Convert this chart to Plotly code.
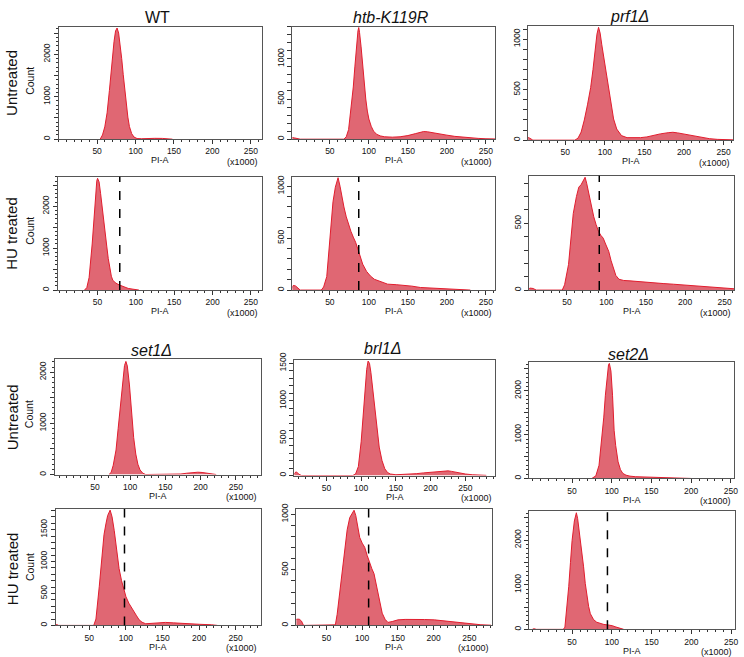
import plotly.graph_objects as go

# ---------------- data (PI-A in x1000, counts) ----------------
WT_U_PI = [54, 57, 60, 63, 66, 68, 70, 72, 74, 76, 78, 80, 82, 84, 86, 88, 90, 92, 95, 98, 102, 108, 115, 125, 135, 142, 148]
WT_U_COUNT = [0, 100, 290, 620, 1150, 1550, 1950, 2300, 2550, 2620, 2500, 2250, 1900, 1520, 1150, 780, 520, 300, 130, 50, 15, 10, 18, 20, 18, 10, 0]

HTB_U_PI = [0, 2, 5, 8, 12, 68, 71, 74, 77, 80, 82, 84, 86, 87, 88, 90, 92, 94, 96, 98, 100, 103, 106, 110, 115, 120, 130, 140, 150, 160, 170, 175, 180, 190, 200, 210, 220, 230, 240, 250, 262]
HTB_U_COUNT = [0, 20, 15, 5, 0, 0, 30, 120, 350, 650, 900, 1150, 1350, 1390, 1330, 1150, 920, 700, 500, 350, 250, 160, 100, 60, 40, 30, 25, 30, 45, 70, 95, 92, 82, 65, 50, 35, 25, 15, 10, 5, 3]

PRF1_U_PI = [0, 2, 5, 9, 62, 66, 70, 74, 78, 82, 85, 88, 90, 92, 94, 96, 99, 102, 105, 108, 111, 115, 121, 128, 138, 145, 153, 160, 170, 180, 186, 192, 200, 208, 216, 224, 232, 242, 253, 262]
PRF1_U_COUNT = [0, 30, 20, 0, 0, 20, 80, 200, 350, 520, 700, 900, 1050, 1117, 1060, 950, 800, 680, 540, 360, 210, 110, 45, 25, 22, 25, 32, 45, 62, 74, 78, 72, 60, 45, 32, 22, 15, 8, 5, 3]

WT_HU_PI = [33, 36, 39, 41, 43, 45, 47, 49, 50, 52, 54, 56, 58, 60, 62, 64, 66, 68, 70, 74, 78, 82, 86, 90, 95, 100, 104]
WT_HU_COUNT = [0, 60, 300, 650, 1100, 1600, 2200, 2600, 2667, 2580, 2300, 1950, 1620, 1330, 1050, 750, 500, 330, 230, 165, 125, 90, 60, 40, 25, 10, 0]

HTB_HU_PI = [0, 3, 6, 9, 12, 39, 42, 46, 50, 54, 57, 60.5, 63, 65, 68, 71, 74, 77, 80, 83, 87, 92, 97, 102, 107, 115, 124, 135, 145, 155, 166, 180, 200, 215, 230]
HTB_HU_COUNT = [0, 45, 40, 15, 0, 0, 30, 130, 470, 850, 990, 1082, 1000, 910, 800, 705, 630, 565, 510, 460, 370, 250, 180, 135, 104, 80, 57, 52, 47, 38, 25, 18, 12, 5, 0]

PRF1_HU_PI = [0, 3, 7, 11, 44, 47, 52, 55, 58, 62, 65, 68, 70, 72, 73, 75, 78, 81, 84, 87, 90, 93, 96, 99, 103, 106, 109, 112, 116, 122, 130, 140, 151, 162, 172, 185, 198, 210, 223, 236, 248, 262]
PRF1_HU_COUNT = [0, 15, 12, 0, 0, 40, 192, 380, 574, 700, 771, 790, 808, 830, 845, 800, 709, 620, 549, 490, 440, 410, 389, 345, 290, 220, 155, 110, 81, 72, 69, 63, 57, 52, 49, 44, 39, 32, 25, 20, 15, 10]

SET1_U_PI = [70, 73, 76, 80, 83, 86, 89, 92, 94, 96, 99, 102, 105, 108, 111, 114, 118, 122, 165, 172, 180, 190, 196, 202, 210, 216, 222]
SET1_U_COUNT = [0, 40, 180, 480, 900, 1350, 1800, 2130, 2210, 2120, 1750, 1200, 720, 400, 200, 90, 25, 0, 0, 10, 25, 40, 45, 40, 22, 6, 0]

BRL1_U_PI = [2, 5, 7, 10, 14, 88, 92, 96, 100, 103, 106, 108, 110, 112, 114, 117, 120, 123, 126, 130, 134, 138, 142, 150, 170, 180, 190, 200, 210, 220, 225, 230, 240, 250, 260, 270, 280]
BRL1_U_COUNT = [0, 40, 48, 20, 0, 0, 20, 120, 450, 850, 1200, 1420, 1530, 1500, 1380, 1120, 850, 600, 380, 200, 90, 40, 20, 10, 15, 25, 35, 45, 55, 65, 62, 55, 35, 20, 10, 5, 2]

SET2_U_PI = [75, 80, 84, 87, 90, 92, 94, 96, 97, 99, 101, 102, 103, 105, 108, 111, 114, 118, 123, 130, 144, 160, 173, 185, 200]
SET2_U_COUNT = [0, 60, 300, 800, 1400, 1900, 2350, 2600, 2626, 2450, 1900, 1350, 1100, 750, 380, 200, 115, 75, 53, 40, 30, 15, 8, 3, 0]

SET1_HU_PI = [0, 2, 5, 8, 56, 59, 63.5, 66, 68, 70, 72.6, 75, 78.4, 81, 84, 87, 90.6, 94, 97.4, 100, 104, 108, 111, 114, 118, 122, 127, 135, 145, 154, 165, 181, 200, 217, 225]
SET1_HU_COUNT = [0, 20, 15, 0, 0, 100, 605, 950, 1226, 1420, 1588, 1720, 1805, 1700, 1485, 1200, 890, 700, 553, 450, 347, 280, 217, 160, 88, 50, 26, 35, 42, 47, 40, 26, 18, 10, 0]

BRL1_HU_PI = [2, 5, 8, 12, 15, 18, 60, 62.5, 65, 68.6, 72, 75.6, 79, 82.6, 86, 88.6, 91, 93.5, 96.5, 100, 103.5, 107, 110.5, 113.5, 116.5, 119, 122, 125, 128, 132, 136, 142, 150, 160, 173, 187, 201, 215, 229, 245, 266, 280]
BRL1_HU_COUNT = [0, 30, 56, 56, 40, 0, 0, 5, 100, 288, 500, 703, 860, 970, 1010, 1036, 990, 900, 792, 740, 703, 630, 555, 510, 466, 390, 288, 190, 110, 55, 27, 35, 50, 54, 56, 53, 50, 40, 27, 15, 6, 2]

SET2_HU_PI = [0, 2, 5, 39, 41, 43, 45.8, 48, 50, 52.9, 55.4, 57, 58.4, 60.5, 62.5, 64.5, 66.6, 68.5, 70.8, 73, 77, 81, 85.4, 90, 95, 98, 101, 104, 108, 112, 115]
SET2_HU_COUNT = [0, 15, 0, 0, 50, 400, 956, 1500, 1985, 2426, 2610, 2480, 2279, 2050, 1765, 1400, 1029, 750, 515, 350, 220, 160, 132, 110, 100, 95, 80, 59, 40, 15, 0]

# G1 gate positions (dashed lines) for HU treated samples
GATE_WT = 79
GATE_HTB = 87
GATE_PRF1 = 91
GATE_SET1 = 98
GATE_BRL1 = 109
GATE_SET2 = 94.5

STRAINS_TOP = ["WT", "htb-K119R", "prf1Δ"]
STRAINS_BOTTOM = ["set1Δ", "brl1Δ", "set2Δ"]
X_TICKS = [50, 100, 150, 200, 250]

# ---------------- layout ----------------
W, H = 744, 657
LINE = "#e11d2e"
FILL = "rgba(218,76,90,0.85)"
FONT = "Arial, Liberation Sans, sans-serif"

panels = [
    dict(x=WT_U_PI, y=WT_U_COUNT, box=(59, 19, 263, 133), xr=[0, 264], yr=[0, 2650], step=1000, gate=None),
    dict(x=HTB_U_PI, y=HTB_U_COUNT, box=(294, 19, 498, 133), xr=[2, 262], yr=[0, 1400], step=500, gate=None),
    dict(x=PRF1_U_PI, y=PRF1_U_COUNT, box=(531, 18, 737, 134), xr=[3, 262], yr=[0, 1133], step=500, gate=None),
    dict(x=WT_HU_PI, y=WT_HU_COUNT, box=(58, 171, 263, 286), xr=[-2, 264], yr=[0, 2706], step=1000, gate=GATE_WT),
    dict(x=HTB_HU_PI, y=HTB_HU_COUNT, box=(294, 171, 498, 286), xr=[2, 262], yr=[0, 1092], step=500, gate=GATE_HTB),
    dict(x=PRF1_HU_PI, y=PRF1_HU_COUNT, box=(532, 170, 738, 286), xr=[2, 262], yr=[0, 857], step=500, gate=GATE_PRF1),
    dict(x=SET1_U_PI, y=SET1_U_COUNT, box=(55, 356, 262, 473), xr=[-7, 285], yr=[0, 2255], step=1000, gate=None),
    dict(x=BRL1_U_PI, y=BRL1_U_COUNT, box=(296, 357, 498, 474), xr=[4, 293], yr=[0, 1543], step=500, gate=None),
    dict(x=SET2_U_PI, y=SET2_U_COUNT, box=(532, 359, 738, 477), xr=[-4, 254], yr=[0, 2656], step=1000, gate=None),
    dict(x=SET1_HU_PI, y=SET1_HU_COUNT, box=(56, 508, 262, 626), xr=[4, 284], yr=[0, 1822], step=500, gate=GATE_SET1),
    dict(x=BRL1_HU_PI, y=BRL1_HU_COUNT, box=(298, 508, 495, 626), xr=[8, 282], yr=[0, 1047], step=500, gate=GATE_BRL1),
    dict(x=SET2_HU_PI, y=SET2_HU_COUNT, box=(532, 510, 739, 630), xr=[-4, 255], yr=[0, 2649], step=1000, gate=GATE_SET2),
]

fig = go.Figure()
annotations = []
shapes = []


def px_x(v):
    return v / W


def px_y(v):
    return 1 - v / H


for i, p in enumerate(panels, start=1):
    xa = "x" if i == 1 else f"x{i}"
    ya = "y" if i == 1 else f"y{i}"
    fig.add_trace(go.Scatter(
        x=p["x"], y=p["y"], xaxis=xa, yaxis=ya, mode="lines", fill="tozeroy",
        line=dict(color=LINE, width=1), fillcolor=FILL, hoverinfo="skip", showlegend=False))
    l, t, r, b = p["box"]
    step = p["step"]
    sub = 500 if step == 1000 else 100
    vals = list(range(0, int(p["yr"][1]) + 1, sub))
    texts = [str(v) if v % step == 0 else "" for v in vals]
    common = dict(showline=True, mirror=True, linecolor="#555", linewidth=1,
                  showgrid=False, zeroline=False, ticks="outside", ticklen=4,
                  tickcolor="#333", tickwidth=1,
                  tickfont=dict(family=FONT, size=8.5, color="#111"))
    xaxis = dict(common, domain=[px_x(l), px_x(r)], range=p["xr"], anchor=ya,
                 tickmode="array", tickvals=X_TICKS, ticktext=[str(v) for v in X_TICKS],
                 minor=dict(dtick=10, tick0=0, ticks="outside", ticklen=2, tickcolor="#333", showgrid=False))
    yaxis = dict(common, domain=[px_y(b), px_y(t)], range=p["yr"], anchor=xa,
                 tickmode="array", tickvals=vals, ticktext=texts, tickangle=-90)
    if step == 1000:
        yaxis["minor"] = dict(dtick=100, tick0=0, ticks="outside", ticklen=2, tickcolor="#333", showgrid=False)
    fig.layout["xaxis" if i == 1 else f"xaxis{i}"] = xaxis
    fig.layout["yaxis" if i == 1 else f"yaxis{i}"] = yaxis

    # axis annotations
    annotations.append(dict(x=px_x((l + r) / 2), y=px_y(b + 21.5), xref="paper", yref="paper",
                            text="PI-A", showarrow=False, xanchor="center", yanchor="middle",
                            font=dict(family=FONT, size=9, color="#111")))
    annotations.append(dict(x=px_x(r - 19), y=px_y(b + 23), xref="paper", yref="paper",
                            text="(x1000)", showarrow=False, xanchor="center", yanchor="middle",
                            font=dict(family=FONT, size=9, color="#111")))
    if p["gate"] is not None:
        shapes.append(dict(type="line", xref=xa, yref=f"{ya} domain", x0=p["gate"], x1=p["gate"],
                           y0=0, y1=1, line=dict(color="black", width=1.5, dash="dash")))

# titles
title_pos_top = [(158, 10), (393, 10), (633, 9)]
title_pos_bot = [(152, 347), (385, 345), (632, 351)]
for name, (x, y) in zip(STRAINS_TOP, title_pos_top):
    txt = name if name == "WT" else f"<i>{name}</i>"
    annotations.append(dict(x=px_x(x), y=px_y(y), xref="paper", yref="paper", text=txt,
                            showarrow=False, xanchor="center", yanchor="middle",
                            font=dict(family=FONT, size=16, color="#111")))
for name, (x, y) in zip(STRAINS_BOTTOM, title_pos_bot):
    annotations.append(dict(x=px_x(x), y=px_y(y), xref="paper", yref="paper", text=f"<i>{name}</i>",
                            showarrow=False, xanchor="center", yanchor="middle",
                            font=dict(family=FONT, size=16, color="#111")))

# row labels + Count
rows = [("Untreated", 76, 74), ("HU treated", 228, 226), ("Untreated", 415, 412), ("HU treated", 568, 567)]
for label, yl, yc in rows:
    annotations.append(dict(x=px_x(12), y=px_y(yl), xref="paper", yref="paper", text=label,
                            showarrow=False, textangle=-90, xanchor="center", yanchor="middle",
                            font=dict(family=FONT, size=15, color="#111")))
    annotations.append(dict(x=px_x(30), y=px_y(yc), xref="paper", yref="paper", text="Count",
                            showarrow=False, textangle=-90, xanchor="center", yanchor="middle",
                            font=dict(family=FONT, size=10.5, color="#111")))

fig.update_layout(width=W, height=H, margin=dict(l=0, r=0, t=0, b=0),
                  paper_bgcolor="white", plot_bgcolor="white",
                  annotations=annotations, shapes=shapes, showlegend=False)

fig.write_html("out.html")
